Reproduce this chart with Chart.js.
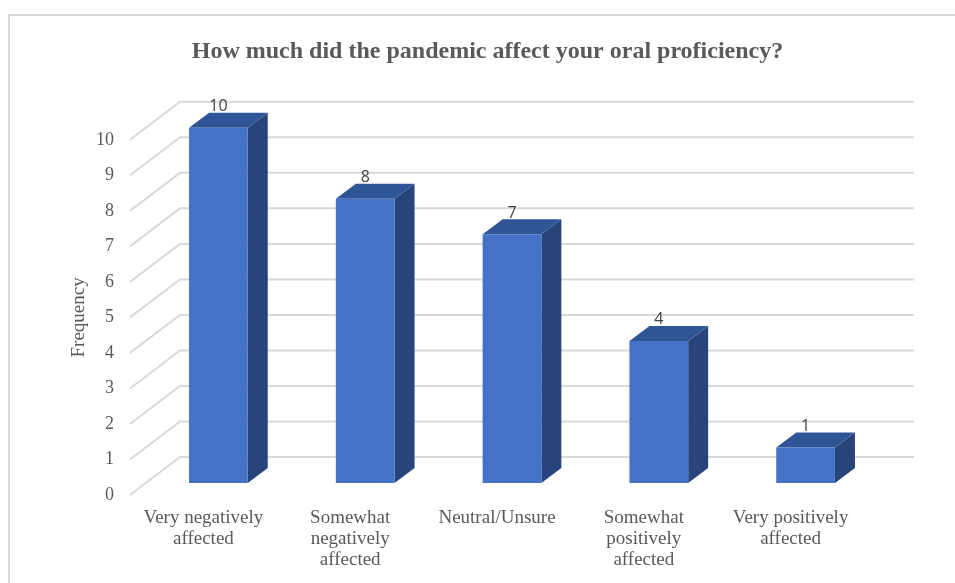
<!DOCTYPE html>
<html lang="en">
<head>
    <meta charset="UTF-8">
    <title>Oral proficiency</title>
    <script src="https://cdn.jsdelivr.net/npm/chart.js"></script>
    <style>
        html, body { margin: 0; padding: 0; background: #fff; overflow: hidden; }
        #frame {
            position: absolute; left: 8px; top: 14px; width: 960px; height: 600px;
            border: 2px solid #d9d9d9; box-sizing: border-box;
        }
        #wrap { position: absolute; left: 20px; top: 0; width: 935px; height: 583px; }
    </style>
</head>
<body>
    <div id="frame"></div>
    <div id="wrap"><canvas id="chart"></canvas></div>

    <script>
        const categories = [
            ['Very negatively', 'affected'],
            ['Somewhat', 'negatively', 'affected'],
            'Neutral/Unsure',
            ['Somewhat', 'positively', 'affected'],
            ['Very positively', 'affected']
        ];
        const frequency = [10, 8, 7, 4, 1];

        const serif = '"Liberation Serif", "Times New Roman", serif';

        // fake 3D: native bars are shifted into the middle of the floor, with faces added on
        const depth = { backX: 50, backY: -38, barX: 15, barY: -12, faceX: 20, faceY: -15 };

        const walls = {
            id: 'walls',
            beforeDatasetsDraw(chart) {
                const { ctx, chartArea, scales } = chart;
                ctx.save();
                ctx.strokeStyle = '#d9d9d9';
                ctx.lineWidth = 2;
                scales.y.ticks.forEach(t => {
                    const y = scales.y.getPixelForValue(t.value);
                    ctx.beginPath();
                    ctx.moveTo(chartArea.left, y);
                    ctx.lineTo(chartArea.left + depth.backX, y + depth.backY);
                    ctx.lineTo(chartArea.right + depth.backX, y + depth.backY);
                    ctx.stroke();
                });
                ctx.restore();
            }
        };

        const bars3d = {
            id: 'bars3d',
            beforeDatasetDraw(chart, args) {
                const ctx = chart.ctx;
                ctx.save();
                ctx.translate(depth.barX, depth.barY);
                args.meta.data.forEach(bar => {
                    const l = bar.x - bar.width / 2, r = bar.x + bar.width / 2;
                    ctx.fillStyle = '#27457b';
                    ctx.beginPath();
                    ctx.moveTo(r, bar.y);
                    ctx.lineTo(r + depth.faceX, bar.y + depth.faceY);
                    ctx.lineTo(r + depth.faceX, bar.base + depth.faceY);
                    ctx.lineTo(r, bar.base);
                    ctx.closePath();
                    ctx.fill();
                    ctx.fillStyle = '#2f5597';
                    ctx.beginPath();
                    ctx.moveTo(l, bar.y);
                    ctx.lineTo(l + depth.faceX, bar.y + depth.faceY);
                    ctx.lineTo(r + depth.faceX, bar.y + depth.faceY);
                    ctx.lineTo(r, bar.y);
                    ctx.closePath();
                    ctx.fill();
                });
            },
            afterDatasetDraw(chart, args) {
                const ctx = chart.ctx;
                ctx.fillStyle = '#404040';
                ctx.font = '16px "Open Sans", sans-serif';
                ctx.textAlign = 'center';
                ctx.textBaseline = 'middle';
                args.meta.data.forEach((bar, i) => {
                    ctx.fillText(frequency[i], bar.x, bar.y + depth.faceY - 6);
                });
                ctx.restore();
            }
        };

        new Chart(document.getElementById('chart'), {
            type: 'bar',
            data: {
                labels: categories,
                datasets: [{
                    label: 'Frequency',
                    data: frequency,
                    backgroundColor: '#4472c4',
                    barPercentage: 0.4,
                    categoryPercentage: 1
                }]
            },
            plugins: [walls, bars3d],
            options: {
                responsive: true,
                maintainAspectRatio: false,
                animation: false,
                plugins: {
                    legend: { display: false },
                    tooltip: { enabled: false },
                    title: {
                        display: true,
                        text: 'How much did the pandemic affect your oral proficiency?',
                        color: '#595959',
                        font: { family: serif, size: 24, weight: 'bold' },
                        padding: { top: 37, bottom: 74 }
                    }
                },
                scales: {
                    x: {
                        grid: { display: false, drawTicks: false },
                        border: { display: false },
                        afterFit: s => { s.height = 88; },
                        ticks: {
                            color: '#595959',
                            padding: 12,
                            maxRotation: 0,
                            autoSkip: false,
                            font: { family: serif, size: 19, lineHeight: 1.12 }
                        }
                    },
                    y: {
                        min: 0,
                        max: 10,
                        grid: { display: false, drawTicks: false },
                        border: { display: false },
                        afterFit: s => { s.width = 110; },
                        ticks: {
                            stepSize: 1,
                            color: '#595959',
                            padding: 16,
                            font: { family: serif, size: 18 }
                        },
                        title: {
                            display: true,
                            text: 'Frequency',
                            color: '#595959',
                            font: { family: serif, size: 19 },
                            padding: { top: 48, bottom: 0 }
                        }
                    },
                    // empty axis, keeps the room on the right without moving the centred title
                    spacer: {
                        position: 'right',
                        min: 0,
                        max: 10,
                        grid: { display: false, drawTicks: false },
                        border: { display: false },
                        ticks: { display: false },
                        afterFit: s => { s.width = 91; }
                    }
                }
            }
        });
    </script>
</body>
</html>
